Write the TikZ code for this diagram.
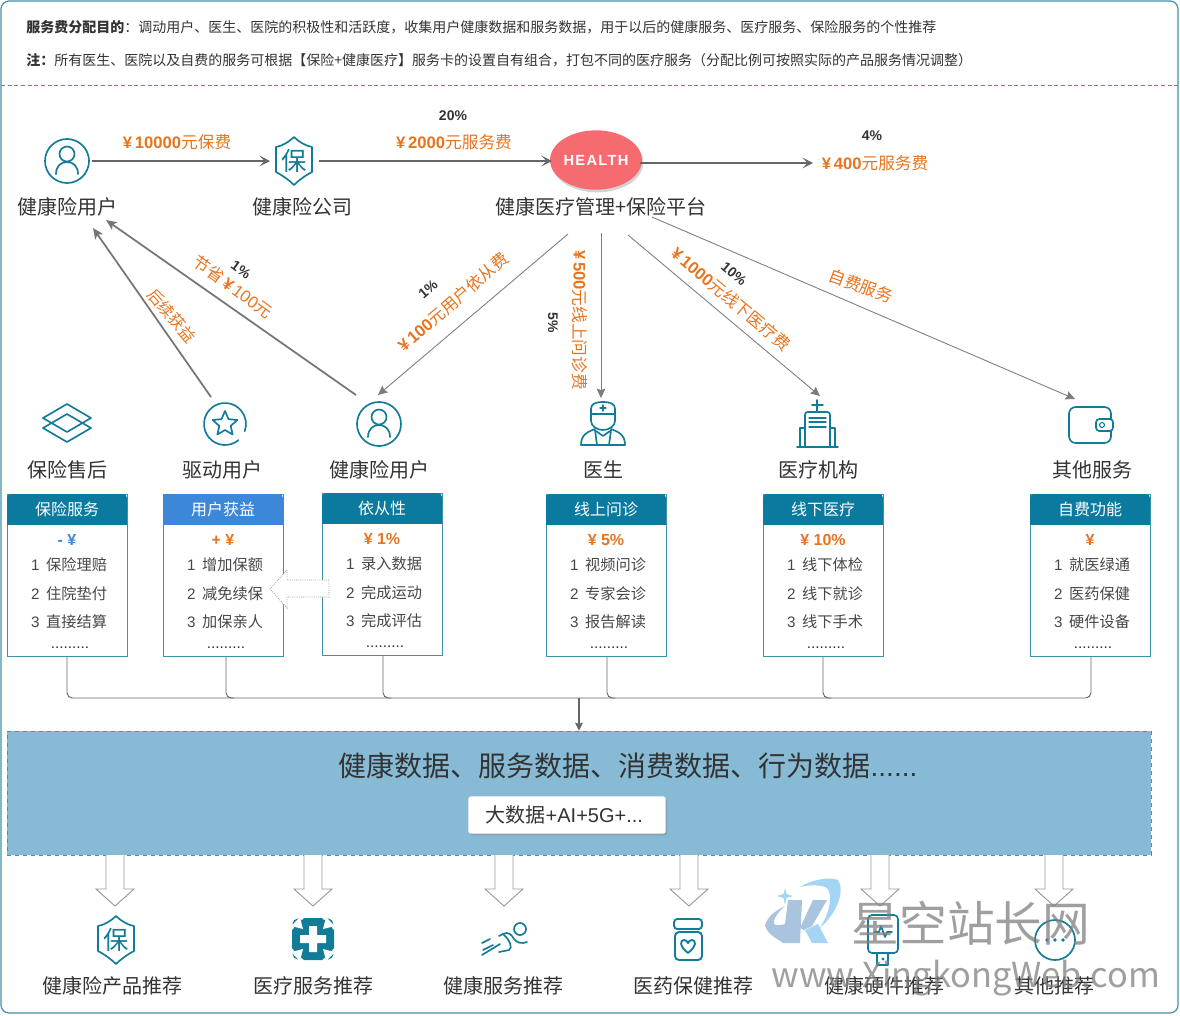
\documentclass[tikz,border=0pt]{standalone}
\usepackage{fontspec}
\setmainfont{Noto Sans CJK SC}
\newfontfamily\la{Liberation Sans}
\usetikzlibrary{arrows.meta,shadows,shapes.geometric}
\definecolor{teal1}{HTML}{127C98}
\definecolor{frameC}{HTML}{3F93A6}
\definecolor{txt}{HTML}{333333}
\definecolor{org}{HTML}{E8741E}
\definecolor{headA}{HTML}{0A7A9E}
\definecolor{headB}{HTML}{3C87D8}
\definecolor{boxblue}{HTML}{87BAD5}
\definecolor{arrG}{HTML}{666666}
\definecolor{HealthRed}{HTML}{F56B70}
\definecolor{logoA}{HTML}{A9C4DF}
\definecolor{logoB}{HTML}{A5D5F5}
\newcommand{\yn}[1]{{\la\bfseries ¥#1}}
\newcommand{\fs}[1]{\fontsize{#1}{#1}\selectfont}
\tikzset{
  lbl/.style={inner sep=0pt,text=txt,font=\fs{15}},
  fee/.style={inner sep=0pt,text=org,font=\fs{12.5}},
  pct/.style={inner sep=0pt,text=txt,font=\la\bfseries\fs{10.5}},
  note/.style={inner sep=0pt,text=txt,font=\fs{10.5},anchor=west},
  thick arrow/.style={draw=arrG,line width=1.4pt,-{Stealth[length=8pt,width=8pt,inset=4pt]}},
  diag arrow/.style={draw=arrG!90,line width=1.3pt,-{Stealth[length=8pt,width=7pt,inset=2pt]}},
  thin arrow/.style={draw=arrG!85,line width=.65pt,-{Stealth[length=7pt,width=6.5pt,inset=1pt]}},
  icon/.style={draw=teal1,line width=1.25pt,line join=round,line cap=round},
  bus/.style={draw=arrG,line width=.7pt,rounded corners=4pt},
  hollow/.style={draw=black!40,fill=white,line width=.7pt},
  cardbody/.style={draw=frameC,fill=white,line width=.7pt,minimum width=90pt,minimum height=121.5pt,inner sep=0pt},
  cardhead/.style={inner sep=0pt,text=white,font=\fs{12}},
  carditem/.style={inner sep=0pt,text=txt!90,font=\fs{11.4}},
  wmark/.style={inner sep=0pt,text=black!50,opacity=.75},
  pics/icuser/.style={code={
    \draw[icon] (0,0) circle (22);
    \draw[icon] (0,-7) circle (7.5);
    \draw[icon] (-11,13) .. controls (-11,5) and (-6,1) .. (0,1) .. controls (6,1) and (11,5) .. (11,13);
  }},
  pics/icshield/.style={code={
    \draw[icon] (0,-24) .. controls (5,-19) and (12,-15) .. (18,-14) -- (18,11) .. controls (12,14) and (5,19) .. (0,24) .. controls (-5,19) and (-12,14) .. (-18,11) -- (-18,-14) .. controls (-12,-15) and (-5,-19) .. (0,-24) -- cycle;
    \node[inner sep=0pt,text=teal1,font=\fs{19}] at (0,0) {保};
  }},
}
\newcommand{\card}[9]{%
  % name, x-left, y-top, head colour, head text, mark, items a b c
  \begin{scope}[shift={(#2,#3)}]
    \node[cardbody] (#1) at (60,81) {};
    \fill[#4,rounded corners=3pt] (0,0) rectangle (120,20);
    \fill[#4] (0,10) rectangle (120,31);
    \node[cardhead] (#1h) at (60,15) {#5};
    \node[inner sep=0pt,font=\fs{12}] (#1m) at (60,46) {#6};
    \node[carditem] (#1a) at (62,71) {{\la 1}\hspace{5pt}#7};
    \node[carditem] (#1b) at (62,100) {{\la 2}\hspace{5pt}#8};
    \node[carditem] (#1c) at (62,128) {{\la 3}\hspace{5pt}#9};
    \node[inner sep=0pt,text=txt,font=\la\fs{11.5}] (#1d) at (63,154) {.........};
  \end{scope}}
\begin{document}
\begin{tikzpicture}[x=.75pt,y=-.75pt]
\useasboundingbox (0,0) rectangle (1180,1015);
\fill[white] (0,0) rectangle (1180,1015);
\draw[frameC,line width=.9pt,rounded corners=6pt] (1,1) rectangle (1178,1013);
\draw[frameC,line width=.6pt,densely dashed] (1,85) -- (1178,85);
\node[note] (n1) at (26,27) {\textbf{服务费分配目的}：调动用户、医生、医院的积极性和活跃度，收集用户健康数据和服务数据，用于以后的健康服务、医疗服务、保险服务的个性推荐};
\node[note] (n2) at (26,60) {\textbf{注：}所有医生、医院以及自费的服务可根据【保险+健康医疗】服务卡的设置自有组合，打包不同的医疗服务（分配比例可按照实际的产品服务情况调整）};

% top row
\pic at (67,161) {icuser};
\pic at (294,161) {icshield};
\node[ellipse,fill=HealthRed,minimum width=64pt,minimum height=44.5pt,inner sep=0pt,drop shadow={shadow xshift=1pt,shadow yshift=-2pt,opacity=.35},text=white,font=\la\bfseries\fs{11}] (health) at (596,160) {\addfontfeature{LetterSpace=9}HEALTH};
\node[lbl] (t1) at (67,207) {健康险用户};
\node[lbl] (t2) at (302,207) {健康险公司};
\node[lbl] (t3) at (601,207) {健康医疗管理+保险平台};
\coordinate (a1s) at (92,161); \coordinate (a1e) at (270,161);
\coordinate (a2s) at (319,161); \coordinate (a2e) at (552,161);
\coordinate (a3s) at (640,163); \coordinate (a3e) at (813,163);
\draw[thick arrow] (a1s) -- (a1e);
\draw[thick arrow] (a2s) -- (a2e);
\draw[thick arrow] (a3s) -- (a3e);
\node[fee] (f1) at (177,142) {\yn{\,10000}元保费};
\node[fee] (f2) at (454,142) {\yn{\,2000}元服务费};
\node[fee] (f3) at (875,163) {\yn{\,400}元服务费};
\node[pct] (p1) at (453,116) {20\%};
\node[pct] (p2) at (872,136) {4\%};

% diagonal connectors
\coordinate (d1s) at (211,397); \coordinate (d1e) at (93,228);
\coordinate (d2s) at (356,395); \coordinate (d2e) at (106,220);
\coordinate (d3s) at (568,234); \coordinate (d3e) at (378,395);
\coordinate (d4s) at (601,233); \coordinate (d4e) at (601,398);
\coordinate (d5s) at (628,235); \coordinate (d5e) at (820,396);
\coordinate (d6s) at (652,217); \coordinate (d6e) at (1075,399);
\draw[diag arrow] (d1s) -- (d1e);
\draw[diag arrow] (d2s) -- (d2e);
\draw[thin arrow] (d3s) -- (d3e);
\draw[thin arrow] (d4s) -- (d4e);
\draw[thin arrow] (d5s) -- (d5e);
\draw[thin arrow] (d6s) -- (d6e);
\node[fee,rotate=-49,font=\fs{12}] (f4) at (172,316) {后续获益};
\node[fee,rotate=-36] (f5) at (233,287) {节省\,{\la\bfseries ¥}\,{\la 100}元};
\node[pct,rotate=-36] (p3) at (241,270) {1\%};
\node[fee,rotate=41] (f6) at (453,302) {\yn{\,100}元用户依从费};
\node[pct,rotate=41] (p4) at (428,289) {1\%};
\node[fee,rotate=-90] (f7) at (580,320) {\yn{\,500}元线上问诊费};
\node[pct,rotate=-90] (p5) at (553,323) {5\%};
\node[fee,rotate=-40] (f8) at (731,299) {\yn{\,1000}元线下医疗费};
\node[pct,rotate=-40] (p6) at (734,274) {10\%};
\node[fee,rotate=-20] (f9) at (861,286) {自费服务};

% second row icons
\begin{scope}[shift={(67,423)}]
  \draw[icon] (-24,-5) -- (0,-19) -- (24,-5) -- (0,9) -- cycle;
  \draw[icon] (-24,5) -- (0,-9) -- (24,5) -- (0,19) -- cycle;
\end{scope}
\begin{scope}[shift={(225,424)}]
  \draw[icon] (50:21) arc[start angle=50,end angle=380,radius=21];
  \draw[icon] (-90:13)--(-54:6)--(-18:13)--(18:6)--(54:13)--(90:6)--(126:13)--(162:6)--(198:13)--(234:6)--cycle;
\end{scope}
\pic at (379,424) {icuser};
\begin{scope}[shift={(603,424)}]
  \draw[icon] (-12,-10) -- (-12,-15) .. controls (-12,-20) and (-8,-22) .. (0,-22) .. controls (8,-22) and (12,-20) .. (12,-15) -- (12,-10) -- cycle;
  \draw[icon,line width=.9pt] (-3,-16) -- (3,-16) (0,-19) -- (0,-13);
  \draw[icon] (-12,-10) -- (-12,-3) .. controls (-12,2) and (-6,6) .. (0,6) .. controls (6,6) and (12,2) .. (12,-3) -- (12,-10);
  \draw[icon] (-8,5) .. controls (-16,8) and (-22,11) .. (-22,21) -- (22,21) .. controls (22,11) and (16,8) .. (8,5);
  \draw[icon] (-8,6) -- (-6,21) (8,6) -- (6,21) (-7,7) -- (0,12) -- (7,7);
\end{scope}
\begin{scope}[shift={(817,424)}]
  \draw[icon] (0,-24) -- (0,-13) (-5,-19) -- (6,-19);
  \draw[icon,rounded corners=2pt] (-12,23) -- (-12,-12) -- (13,-12) -- (13,23);
  \draw[icon] (-20,23) -- (21,23);
  \draw[icon] (-12,4) -- (-17,4) -- (-17,23) (13,4) -- (18,4) -- (18,23);
  \draw[icon,line width=.9pt] (-8,-6) -- (9,-6) (-8,-2) -- (9,-2) (-8,3) -- (9,3);
\end{scope}
\begin{scope}[shift={(1091,425)}]
  \draw[icon,rounded corners=5pt] (20,-6) -- (20,-18) -- (-22,-18) -- (-22,18) -- (20,18) -- (20,6);
  \draw[icon,rounded corners=2.5pt] (22,-6) -- (5,-6) -- (5,6) -- (22,6) -- cycle;
  \draw[icon,line width=.8pt] (11,0) circle (2.5);
\end{scope}
\node[lbl] (r1) at (67,470) {保险售后};
\node[lbl] (r2) at (222,470) {驱动用户};
\node[lbl] (r3) at (379,470) {健康险用户};
\node[lbl] (r4) at (603,470) {医生};
\node[lbl] (r5) at (818,470) {医疗机构};
\node[lbl] (r6) at (1092,470) {其他服务};

% cards
\card{c1}{7}{494}{headA}{保险服务}{\textcolor{headB}{\la\bfseries - ¥}}{保险理赔}{住院垫付}{直接结算}
\card{c2}{163}{494}{headB}{用户获益}{\textcolor{org}{\la\bfseries + ¥}}{增加保额}{减免续保}{加保亲人}
\card{c3}{322}{493}{headA}{依从性}{\textcolor{org}{\la\bfseries ¥ 1\%}}{录入数据}{完成运动}{完成评估}
\card{c4}{546}{494}{headA}{线上问诊}{\textcolor{org}{\la\bfseries ¥ 5\%}}{视频问诊}{专家会诊}{报告解读}
\card{c5}{763}{494}{headA}{线下医疗}{\textcolor{org}{\la\bfseries ¥ 10\%}}{线下体检}{线下就诊}{线下手术}
\card{c6}{1030}{494}{headA}{自费功能}{\textcolor{org}{\la\bfseries ¥}}{就医绿通}{医药保健}{硬件设备}
\draw[draw=black!45,fill=white,line width=.6pt,densely dotted] (329,580) -- (287,580) -- (287,570) -- (270,589) -- (287,608) -- (287,597) -- (329,597) -- cycle;

% bus
\coordinate (busj) at (579,698);
\node[draw=frameC,dashed,fill=boxblue,line width=.6pt,minimum width=858pt,minimum height=93pt,inner sep=0pt] (data) at (579,793) {};
\draw[bus] (c1.south) |- (busj) -| ([xshift=.75pt]c6.south);
\coordinate (c2b) at ([xshift=2.25pt]c2.south);
\coordinate (c3b) at ([xshift=.75pt]c3.south);
\coordinate (c4b) at ([xshift=.75pt]c4.south);
\draw[bus] (c2b) |- ([xshift=6pt]c2b |- busj);
\draw[bus] (c3b) |- ([xshift=6pt]c3b |- busj);
\draw[bus] (c4b) |- ([xshift=6pt]c4b |- busj);
\draw[bus] (c5.south) |- ([xshift=6pt]c5.south |- busj);
\draw[draw=arrG,line width=.8pt,-{Stealth[length=6pt,width=6pt,inset=1pt]}] (busj) -- (data.north);
\node[inner sep=0pt,text=txt,font=\fs{21}] (dt) at (628,766) {健康数据、服务数据、消费数据、行为数据{\la ......}};
\node[fill=white,rounded corners=2pt,minimum width=148pt,minimum height=28pt,inner sep=0pt,text=txt,font=\fs{15},drop shadow={shadow xshift=1pt,shadow yshift=-1.5pt,opacity=.35}] (ai) at (567,815) {\hspace*{-4pt}大数据{\la +AI+5G+...}};

% bottom block arrows
\foreach \bx in {115,313,504,689,880,1054}{
  \draw[hollow] (\bx-9,855) -- (\bx-9,889) -- (\bx-19,889) -- (\bx,906) -- (\bx+19,889) -- (\bx+9,889) -- (\bx+9,855);
}

% bottom icons
\pic at (116,940) {icshield};
\begin{scope}[shift={(313,939)}]
  \fill[teal1] (-9,-21) -- (9,-21) -- (21,-9) -- (21,9) -- (9,21) -- (-9,21) -- (-21,9) -- (-21,-9) -- cycle;
  \fill[teal1] (-15,-15) circle (5.5) (15,-15) circle (5.5) (-15,15) circle (5.5) (15,15) circle (5.5);
  \fill[white] (-10,-10) -- (-22,-13) -- (-13,-22) -- cycle
    (10,-10) -- (22,-13) -- (13,-22) -- cycle
    (-10,10) -- (-22,13) -- (-13,22) -- cycle
    (10,10) -- (22,13) -- (13,22) -- cycle;
  \fill[white] (-4,-13) rectangle (4,13) (-13,-4) rectangle (13,4);
\end{scope}
\begin{scope}[shift={(502,940)}]
  \draw[icon] (18,-11) circle (6);
  \draw[icon] (-20,15) -- (-2,4);
  \draw[icon] (-3,12) -- (7,10) .. controls (11,8) and (8,0) .. (1,-6) -- (-3,-4);
  \draw[icon] (1,-6) .. controls (6,-9) and (10,-5) .. (12,-1) .. controls (15,3) and (20,4) .. (25,2);
  \draw[icon] (-20,3) -- (-12,-1) (-19,10) -- (-9,5);
\end{scope}
\begin{scope}[shift={(688,940)}]
  \draw[icon,rounded corners=2.5pt,line width=1.4pt] (-14,-21) rectangle (14,-11);
  \draw[icon,rounded corners=3pt,line width=1.4pt] (-13,-8) rectangle (14,20);
  \draw[icon,line width=1.4pt] (0,13) .. controls (-9,6) and (-8,0) .. (-4,0) .. controls (-2,0) and (-1,1) .. (0,3) .. controls (1,1) and (2,0) .. (4,0) .. controls (8,0) and (9,6) .. (0,13) -- cycle;
\end{scope}
\begin{scope}[shift={(883,940)}]
  \draw[icon,rounded corners=3pt] (-15,-25) rectangle (15,13);
  \draw[icon] (-6,13) -- (-6,25) -- (5,25) -- (5,13);
  \fill[teal1] (0,19) circle (1.6);
  \draw[icon] (-9,-8) -- (-4,-8) -- (-2,-14) -- (2,-3) -- (4,-8) -- (9,-8);
\end{scope}
\begin{scope}[shift={(1055,940)}]
  \draw[icon] (0,0) circle (20);
  \fill[teal1] (-8,0) circle (1.8) (0,0) circle (1.8) (8,0) circle (1.8);
\end{scope}
\node[lbl] (b1) at (112,986) {健康险产品推荐};
\node[lbl] (b2) at (313,986) {医疗服务推荐};
\node[lbl] (b3) at (503,986) {健康服务推荐};
\node[lbl] (b4) at (693,986) {医药保健推荐};
\node[lbl] (b5) at (884,986) {健康硬件推荐};
\node[lbl] (b6) at (1054,986) {其他推荐};

% watermark
\fill[logoB] (800,887) .. controls (815,878) and (832,877) .. (838,880) .. controls (845,890) and (838,912) .. (820,928) .. controls (830,912) and (833,895) .. (827,888) .. controls (820,884) and (808,885) .. (800,887) -- cycle;
\fill[logoA] (788,900) -- (802,900) -- (800,943) -- (783,943) .. controls (776,938) and (767,934) .. (765,925) .. controls (768,917) and (773,912) .. (785,906) .. controls (776,914) and (773,920) .. (774,924) .. controls (777,926) and (781,925) .. (785,924) -- cycle;
\fill[logoA] (813,900) -- (827,900) -- (812,926) -- (804,930) -- (800,928) -- cycle;
\fill[logoB] (805,930) -- (818,924) -- (828,943) -- (812,943) -- cycle;
\fill[logoB] (785,888) -- (786.5,894) -- (793,896) -- (786.5,898) -- (785,905) -- (783.5,898) -- (777,896) -- (783.5,894) -- cycle;
\node[wmark,font=\fs{35.8}] (w1) at (971,923) {星空站长网};
\node[wmark,font=\fs{25.8}] (w2) at (966,978) {www.XingkongWeb.com};
\end{tikzpicture}
\end{document}
